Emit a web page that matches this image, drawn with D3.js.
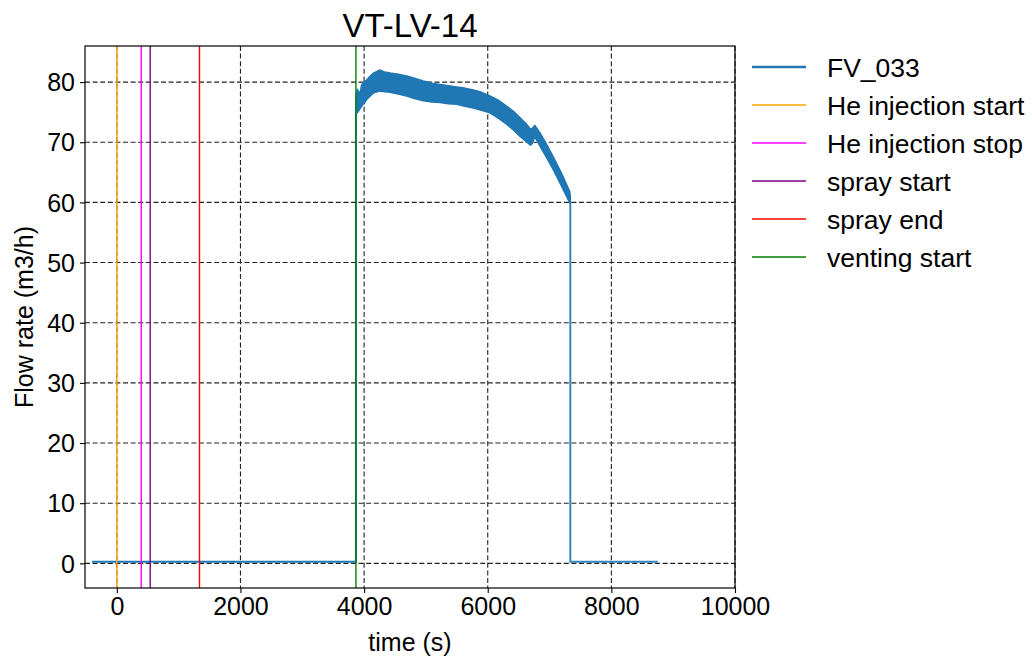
<!DOCTYPE html>
<head>
    <meta charset="utf-8">
    <script src="https://d3js.org/d3.v7.min.js"></script>
    <style>
        body { margin: 0; background: #fff; }
        text { font-family: "Liberation Sans", Arial, sans-serif; fill: #000; }
    </style>
</head>
<body>
<svg width="1032" height="659"></svg>

<script>

    // FV_033 flat parts (valve closed), time in s, flow in m3/h
    var flatBeforeT = [-400, 3868];
    var flatBeforeV = [0.25, 0.25];
    var flatAfterT = [7336, 8750];
    var flatAfterV = [0.25, 0.25];

    // FV_033 while venting: noisy signal read as upper / lower envelope
    var bandT     = [3868, 3890, 3930, 3960, 4000, 4043, 4100, 4151, 4248, 4330, 4420, 4550, 4689, 4800, 4958, 5100, 5227, 5360, 5497, 5630, 5766, 5900, 6035, 6170, 6304, 6420, 6519, 6610, 6692, 6720, 6762, 6843, 6950, 7058, 7190, 7327, 7336];
    var bandUpper = [77.5, 78.8, 78.0, 79.5, 80.0, 80.4, 81.0, 81.5, 82.0, 81.7, 81.5, 81.3, 81.0, 80.7, 80.2, 79.8, 79.6, 79.4, 79.2, 79.0, 78.7, 78.3, 77.7, 77.0, 76.0, 75.1, 74.1, 73.2, 72.2, 72.3, 72.8, 71.6, 69.7, 67.6, 64.9, 61.8, 61.0];
    var bandLower = [75.0, 74.9, 75.5, 76.0, 76.5, 77.1, 77.7, 78.2, 78.5, 78.4, 78.3, 78.0, 77.7, 77.3, 76.9, 76.7, 76.6, 76.4, 76.3, 76.0, 75.7, 75.3, 74.9, 74.0, 73.0, 72.0, 71.0, 70.2, 69.5, 69.8, 70.9, 69.4, 67.5, 65.5, 62.8, 59.9, 60.0];

    // event markers
    var eventNames = ["He injection start", "He injection stop", "spray start", "spray end", "venting start"];
    var eventTimes = [0, 395, 540, 1337, 3868];

    var xTicks = [0, 2000, 4000, 6000, 8000, 10000];
    var yTicks = [0, 10, 20, 30, 40, 50, 60, 70, 80];

    var margin = {top: 46, right: 297, bottom: 71, left: 85};
    var svg = d3.select("svg"),
        width = +svg.attr("width") - margin.left - margin.right,
        height = +svg.attr("height") - margin.top - margin.bottom,
        g = svg.append("g").attr("transform", "translate(" + margin.left + "," + margin.top + ")");

    var x = d3.scaleLinear().domain([-515, 10000]).range([0, width]);
    var y = d3.scaleLinear().domain([-4.1, 86.0]).range([height, 0]);

    var eventColor = d3.scaleOrdinal()
        .domain(eventNames)
        .range(["orange", "magenta", "purple", "red", "green"]);
    var blue = "#1f77b4";

    // grid
    g.append("g").selectAll("line")
        .data(xTicks)
        .enter().append("line")
        .attr("x1", function(d) { return x(d); })
        .attr("x2", function(d) { return x(d); })
        .attr("y1", 0).attr("y2", height)
        .attr("stroke", "#222").attr("stroke-width", 1.1)
        .attr("stroke-dasharray", "5,2.6");
    g.append("g").selectAll("line")
        .data(yTicks)
        .enter().append("line")
        .attr("y1", function(d) { return y(d); })
        .attr("y2", function(d) { return y(d); })
        .attr("x1", 0).attr("x2", width)
        .attr("stroke", "#222").attr("stroke-width", 1.1)
        .attr("stroke-dasharray", "5,2.6");

    // FV_033
    var line = d3.line()
        .x(function(d) { return x(d[0]); })
        .y(function(d) { return y(d[1]); });

    var before = flatBeforeT.map(function(t, i) { return [t, flatBeforeV[i]]; });
    before.push([bandT[0], bandLower[0]]);
    var after = [[bandT[bandT.length - 1], bandLower[bandLower.length - 1]]];
    flatAfterT.forEach(function(t, i) { after.push([t, flatAfterV[i]]); });

    g.append("path").attr("d", line(before))
        .attr("fill", "none").attr("stroke", blue).attr("stroke-width", 2);
    g.append("path").attr("d", line(after))
        .attr("fill", "none").attr("stroke", blue).attr("stroke-width", 2)
        .attr("stroke-opacity", 0.9);

    var band = d3.area()
        .x(function(d, i) { return x(bandT[i]); })
        .y0(function(d, i) { return y(bandLower[i]); })
        .y1(function(d, i) { return y(bandUpper[i]); });
    g.append("path").attr("d", band(bandT))
        .attr("fill", blue).attr("stroke", blue).attr("stroke-width", 1.5)
        .attr("stroke-linejoin", "round");

    // event lines
    g.append("g").selectAll("line")
        .data(eventNames)
        .enter().append("line")
        .attr("x1", function(d, i) { return x(eventTimes[i]); })
        .attr("x2", function(d, i) { return x(eventTimes[i]); })
        .attr("y1", 0).attr("y2", height)
        .attr("stroke", function(d) { return eventColor(d); })
        .attr("stroke-width", 1.4);

    // frame
    g.append("rect").attr("width", width).attr("height", height)
        .attr("fill", "none").attr("stroke", "#000").attr("stroke-width", 1.2);

    // axes
    var xAxis = g.append("g")
        .attr("transform", "translate(0," + height + ")")
        .call(d3.axisBottom(x).tickValues(xTicks).tickSize(5).tickPadding(4).tickFormat(d3.format("d")));
    var yAxis = g.append("g")
        .call(d3.axisLeft(y).tickValues(yTicks).tickSize(5).tickPadding(5).tickFormat(d3.format("d")));
    [xAxis, yAxis].forEach(function(a) {
        a.select(".domain").remove();
        a.selectAll("line").attr("stroke", "#000").attr("stroke-width", 1.1);
        a.selectAll("text").attr("font-size", 25).attr("font-family", null);
    });
    yAxis.selectAll("text").attr("dy", "0.35em");

    svg.append("text")
        .attr("x", margin.left + width / 2).attr("y", 651)
        .attr("text-anchor", "middle").attr("font-size", 25)
        .text("time (s)");
    svg.append("text")
        .attr("transform", "translate(33," + (margin.top + height / 2) + ") rotate(-90)")
        .attr("text-anchor", "middle").attr("font-size", 25)
        .text("Flow rate (m3/h)");
    svg.append("text")
        .attr("x", margin.left + width / 2).attr("y", 37)
        .attr("text-anchor", "middle").attr("font-size", 33)
        .text("VT-LV-14");

    // legend
    var keys = ["FV_033"].concat(eventNames);
    var legend = svg.append("g").selectAll("g")
        .data(keys)
        .enter().append("g")
        .attr("transform", function(d, i) { return "translate(752," + (67 + i * 38) + ")"; });
    legend.append("line")
        .attr("x1", 0).attr("x2", 54)
        .attr("stroke", function(d, i) { return i === 0 ? blue : eventColor(d); })
        .attr("stroke-width", function(d, i) { return i === 0 ? 2.5 : 1.5; });
    legend.append("text")
        .attr("x", 75).attr("y", 9.5)
        .attr("font-size", 26.5)
        .text(function(d) { return d; });

</script>
</body>
